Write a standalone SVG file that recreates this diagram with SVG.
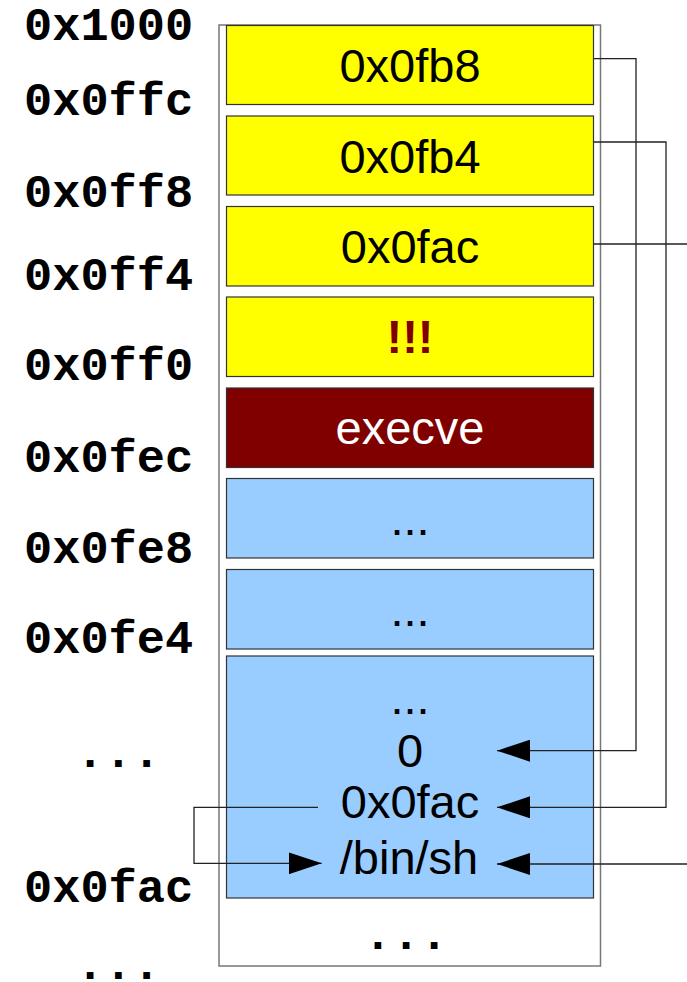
<svg xmlns="http://www.w3.org/2000/svg" width="687" height="982" viewBox="0 0 687 982">
<style>
.addr{font-family:"Liberation Mono","DejaVu Sans Mono",monospace;font-weight:bold;font-size:47px;fill:#000}
.cell{stroke:#333;stroke-width:1.2}
.y{fill:#ffff00}
.b{fill:#99ccff}
.t{font-family:"Liberation Sans",Arial,sans-serif;font-size:47px;text-anchor:middle;fill:#000}
.conn{fill:none;stroke:#222;stroke-width:1.3}
</style>
<defs>
<marker id="ah" viewBox="0 0 33 22" refX="33" refY="11" markerWidth="33" markerHeight="22" markerUnits="userSpaceOnUse" orient="auto">
<path d="M0,0 L33,11 L0,22 z" fill="#000"/>
</marker>
</defs>
<rect width="687" height="982" fill="#fff"/>
<g id="labels">
<text class="addr" x="24" y="40">0x1000</text>
<text class="addr" x="24" y="115">0x0ffc</text>
<text class="addr" x="24" y="207">0x0ff8</text>
<text class="addr" x="24" y="290">0x0ff4</text>
<text class="addr" x="24" y="380">0x0ff0</text>
<text class="addr" x="24" y="472">0x0fec</text>
<text class="addr" x="24" y="563">0x0fe8</text>
<text class="addr" x="24" y="653">0x0fe4</text>
<text class="addr" x="76" y="767">...</text>
<text class="addr" x="24" y="902">0x0fac</text>
<text class="addr" x="76" y="979">...</text>
</g>
<g id="stack">
<rect x="219" y="25" width="381.5" height="941" fill="none" stroke="#777" stroke-width="1.5"/>
<text class="addr" x="406" y="949" text-anchor="middle">...</text>
</g>
<g id="cell1"><rect class="cell y" x="226.5" y="25.5" width="367" height="79"/><text class="t" x="410" y="82">0x0fb8</text></g>
<g id="cell2"><rect class="cell y" x="226.5" y="116" width="367" height="79"/><text class="t" x="410" y="172.5">0x0fb4</text></g>
<g id="cell3"><rect class="cell y" x="226.5" y="206.5" width="367" height="79.5"/><text class="t" x="410" y="263">0x0fac</text></g>
<g id="cell4"><rect class="cell y" x="226.5" y="297" width="367" height="79.5"/><text class="t" x="410" y="353" font-weight="bold" style="fill:#800000">!!!</text></g>
<g id="cell5"><rect class="cell" x="226.5" y="388" width="367" height="79.5" fill="#800000"/><text class="t" x="410" y="444" style="fill:#fff">execve</text></g>
<g id="cell6"><rect class="cell b" x="226.5" y="478.5" width="367" height="79.5"/><text class="t" x="410" y="535">...</text></g>
<g id="cell7"><rect class="cell b" x="226.5" y="569.5" width="367" height="79.5"/><text class="t" x="410" y="626">...</text></g>
<g id="cell8"><rect class="cell b" x="226.5" y="656" width="367" height="242"/>
<text class="t" x="410" y="714">...</text>
<text class="t" x="410" y="767">0</text>
<text class="t" x="410" y="818">0x0fac</text>
<text class="t" x="409" y="874">/bin/sh</text>
</g>
<g id="connectors">
<path class="conn" d="M594,58.7 H636 V750.7 H497" marker-end="url(#ah)"/>
<path class="conn" d="M594,142 H666 V807.3 H497" marker-end="url(#ah)"/>
<path class="conn" d="M594,244 H695 V864 H497" marker-end="url(#ah)"/>
<path class="conn" d="M318,807.3 H194 V863.3 H321.7" marker-end="url(#ah)"/>
</g>
</svg>
